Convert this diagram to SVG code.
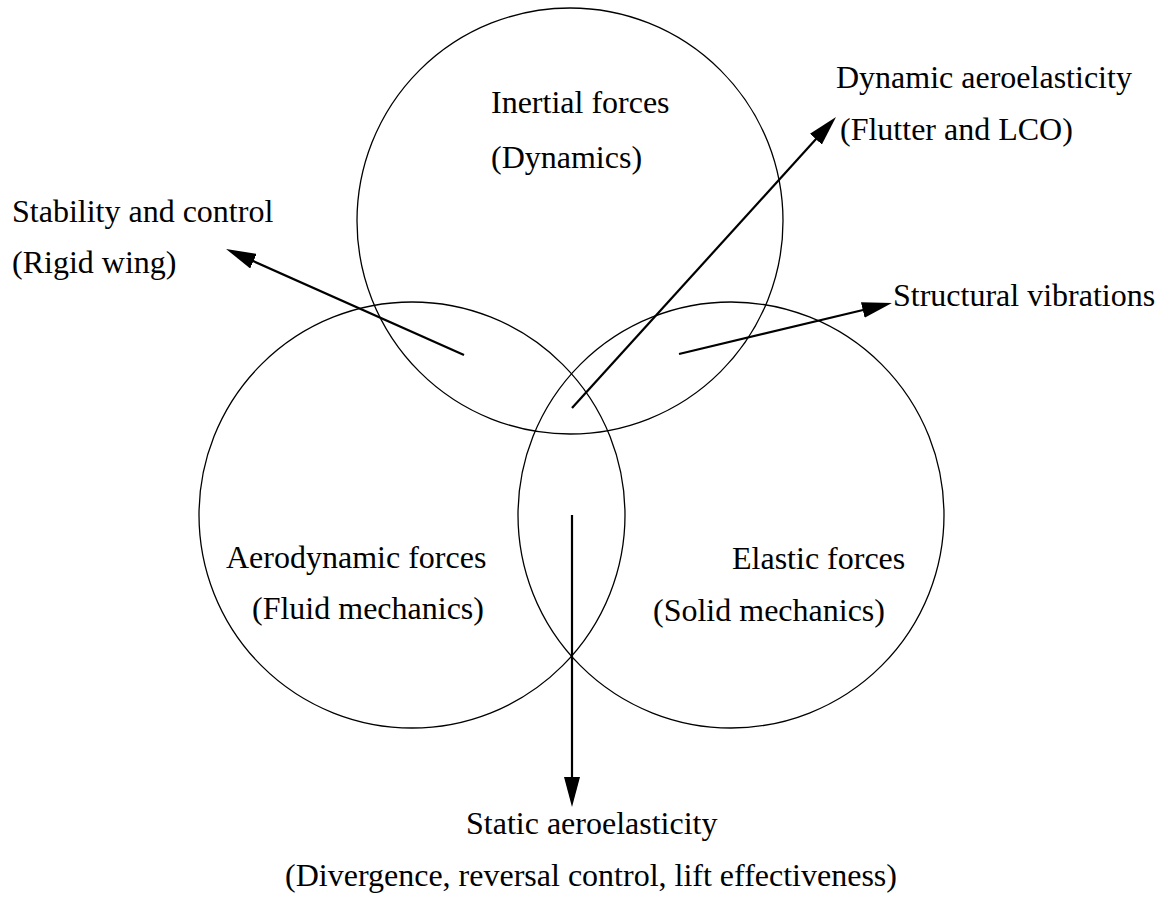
<svg xmlns="http://www.w3.org/2000/svg" width="1161" height="898" viewBox="0 0 1161 898">
<style>
.c{fill:none;stroke:#000;stroke-width:1.3}
.a{fill:none;stroke:#000;stroke-width:2.2;marker-end:url(#ah)}
.t{font-family:'Liberation Serif','DejaVu Serif',serif;font-size:32px;fill:#000}
</style>
<defs>
<marker id="ah" markerUnits="userSpaceOnUse" viewBox="0 0 30 16" refX="10" refY="8" markerWidth="30" markerHeight="16" orient="auto">
<path d="M0,0 L30,8 L0,16 z" fill="#000"/>
</marker>
</defs>
<rect width="1161" height="898" fill="#fff"/>
<g id="inertial">
<circle class="c" cx="570" cy="221" r="213"/>
<text class="t" x="491" y="113">Inertial forces</text>
<text class="t" x="491" y="168">(Dynamics)</text>
</g>
<g id="aerodynamic">
<circle class="c" cx="412" cy="515" r="213"/>
<text class="t" x="226" y="568">Aerodynamic forces</text>
<text class="t" x="252" y="619">(Fluid mechanics)</text>
</g>
<g id="elastic">
<circle class="c" cx="731" cy="515" r="213"/>
<text class="t" x="732" y="569">Elastic forces</text>
<text class="t" x="653" y="621">(Solid mechanics)</text>
</g>
<g id="stability">
<text class="t" x="12" y="222">Stability and control</text>
<text class="t" x="12" y="273">(Rigid wing)</text>
</g>
<g id="dynamic">
<text class="t" x="836" y="88">Dynamic aeroelasticity</text>
<text class="t" x="840" y="140">(Flutter and LCO)</text>
</g>
<g id="structural">
<text class="t" x="893" y="306">Structural vibrations</text>
</g>
<g id="static">
<text class="t" x="466" y="834">Static aeroelasticity</text>
<text class="t" x="591" y="886" text-anchor="middle">(Divergence, reversal control, lift effectiveness)</text>
</g>
<g id="connectors">
<line class="a" x1="464" y1="355" x2="244.3" y2="257.1"/>
<line class="a" x1="572" y1="408" x2="822.6" y2="131.8"/>
<line class="a" x1="679" y1="354" x2="872.5" y2="307.7"/>
<line class="a" x1="572" y1="515" x2="572" y2="787"/>
</g>
</svg>
